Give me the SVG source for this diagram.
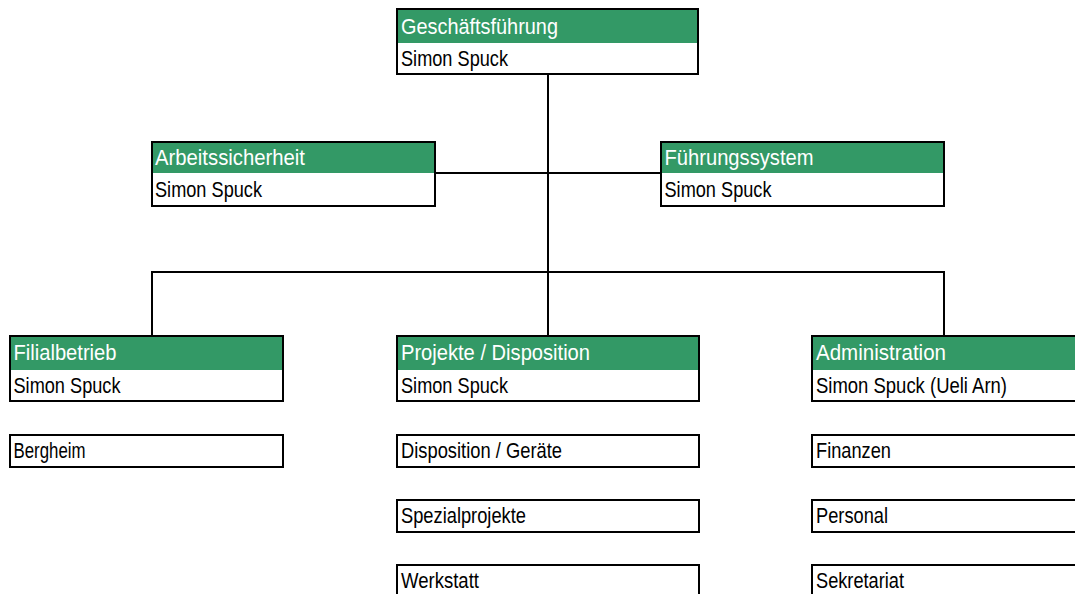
<svg xmlns="http://www.w3.org/2000/svg" width="1075" height="594" viewBox="0 0 1075 594">
<style>
.box{fill:#ffffff;stroke:#000000;stroke-width:2}
.hd{fill:#339966}
.t{font-family:"Liberation Sans",Arial,sans-serif;font-size:22px;fill:#000000}
.w{fill:#ffffff}
.c{fill:none;stroke:#000000;stroke-width:2}
</style>
<rect width="1075" height="594" fill="#ffffff"/>
<g id="connectors">
<path class="c" d="M548 74 V272"/>
<path class="c" d="M435 173 H661"/>
<path class="c" d="M152 336 V272 H944 V336"/>
<path class="c" d="M548 272 V336"/>
</g>
<g id="geschaeftsfuehrung">
<rect class="box" x="397" y="9" width="301" height="65"/>
<rect class="hd" x="398" y="10" width="299" height="33"/>
<text class="t w" x="401" y="33.5" textLength="157" lengthAdjust="spacingAndGlyphs">Geschäftsführung</text>
<text class="t" x="401" y="65.5" textLength="107" lengthAdjust="spacingAndGlyphs">Simon Spuck</text>
</g>
<g id="arbeitssicherheit">
<rect class="box" x="152" y="142" width="283" height="64"/>
<rect class="hd" x="153" y="143" width="281" height="30"/>
<text class="t w" x="155" y="165" textLength="150" lengthAdjust="spacingAndGlyphs">Arbeitssicherheit</text>
<text class="t" x="155" y="197" textLength="107" lengthAdjust="spacingAndGlyphs">Simon Spuck</text>
</g>
<g id="fuehrungssystem">
<rect class="box" x="661" y="142" width="283" height="64"/>
<rect class="hd" x="662" y="143" width="281" height="30"/>
<text class="t w" x="664.5" y="165" textLength="149" lengthAdjust="spacingAndGlyphs">Führungssystem</text>
<text class="t" x="664.5" y="197" textLength="107" lengthAdjust="spacingAndGlyphs">Simon Spuck</text>
</g>
<g id="filialbetrieb">
<rect class="box" x="10" y="336" width="273" height="65"/>
<rect class="hd" x="11" y="337" width="271" height="33"/>
<text class="t w" x="13.5" y="359.5" textLength="103" lengthAdjust="spacingAndGlyphs">Filialbetrieb</text>
<text class="t" x="13.5" y="392.5" textLength="107" lengthAdjust="spacingAndGlyphs">Simon Spuck</text>
</g>
<g id="projekte">
<rect class="box" x="397" y="336" width="302" height="65"/>
<rect class="hd" x="398" y="337" width="300" height="33"/>
<text class="t w" x="401" y="359.5" textLength="189" lengthAdjust="spacingAndGlyphs">Projekte / Disposition</text>
<text class="t" x="401" y="392.5" textLength="107" lengthAdjust="spacingAndGlyphs">Simon Spuck</text>
</g>
<g id="administration">
<rect class="box" x="812" y="336" width="300" height="65"/>
<rect class="hd" x="813" y="337" width="298" height="33"/>
<text class="t w" x="816" y="359.5" textLength="130" lengthAdjust="spacingAndGlyphs">Administration</text>
<text class="t" x="816" y="392.5" textLength="191" lengthAdjust="spacingAndGlyphs">Simon Spuck (Ueli Arn)</text>
</g>
<g id="bergheim">
<rect class="box" x="10" y="435" width="273" height="32"/>
<text class="t" x="13.5" y="457.5" textLength="72" lengthAdjust="spacingAndGlyphs">Bergheim</text>
</g>
<g id="disposition-geraete">
<rect class="box" x="397" y="435" width="302" height="32"/>
<text class="t" x="401" y="457.5" textLength="161" lengthAdjust="spacingAndGlyphs">Disposition / Geräte</text>
</g>
<g id="spezialprojekte">
<rect class="box" x="397" y="500" width="302" height="32"/>
<text class="t" x="401" y="522.5" textLength="125" lengthAdjust="spacingAndGlyphs">Spezialprojekte</text>
</g>
<g id="werkstatt">
<rect class="box" x="397" y="565" width="302" height="32"/>
<text class="t" x="401" y="587.5" textLength="78" lengthAdjust="spacingAndGlyphs">Werkstatt</text>
</g>
<g id="finanzen">
<rect class="box" x="812" y="435" width="300" height="32"/>
<text class="t" x="816" y="457.5" textLength="75" lengthAdjust="spacingAndGlyphs">Finanzen</text>
</g>
<g id="personal">
<rect class="box" x="812" y="500" width="300" height="32"/>
<text class="t" x="816" y="522.5" textLength="72" lengthAdjust="spacingAndGlyphs">Personal</text>
</g>
<g id="sekretariat">
<rect class="box" x="812" y="565" width="300" height="32"/>
<text class="t" x="816" y="587.5" textLength="88" lengthAdjust="spacingAndGlyphs">Sekretariat</text>
</g>
</svg>
